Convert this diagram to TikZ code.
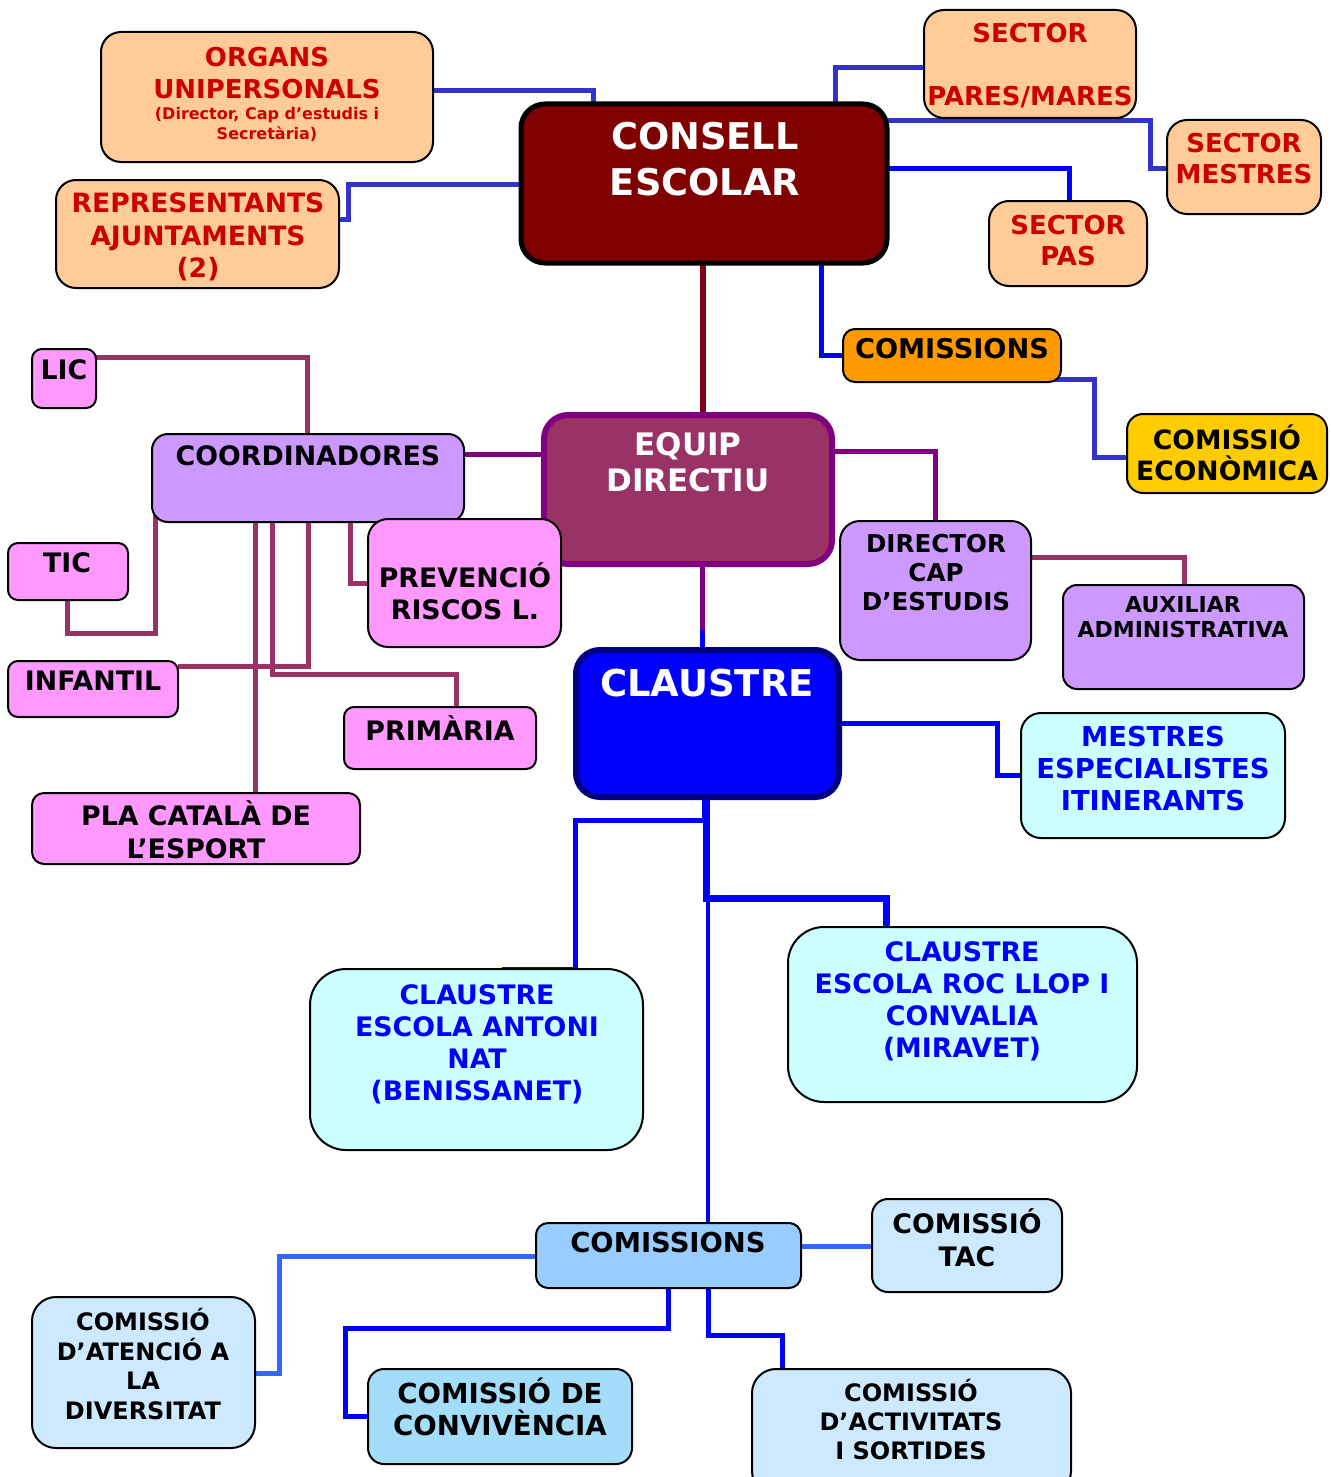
\documentclass[tikz,border=0pt]{standalone}
\usepackage{fontspec}
\setmainfont{DejaVu Sans}
\usetikzlibrary{backgrounds}
\definecolor{peach}{HTML}{FFCC99}
\definecolor{redtxt}{HTML}{CC0000}
\definecolor{maroon}{HTML}{800000}
\definecolor{lblue}{HTML}{3333CC}
\definecolor{pblue}{HTML}{0000FF}
\definecolor{orng}{HTML}{FF9900}
\definecolor{yell}{HTML}{FFCC00}
\definecolor{plum}{HTML}{993366}
\definecolor{purp}{HTML}{800080}
\definecolor{lilac}{HTML}{CC99FF}
\definecolor{pink}{HTML}{FF99FF}
\definecolor{navy}{HTML}{000080}
\definecolor{cyanl}{HTML}{CCFFFF}
\definecolor{skyb}{HTML}{99CCFF}
\definecolor{pale}{HTML}{CCE9FF}
\definecolor{conv}{HTML}{A3DDFA}
\definecolor{mblue}{HTML}{3366FF}
\definecolor{vline}{HTML}{800018}
\newcommand\mybox[7]{\node[#1, rounded corners=#7, minimum width={(#5-#3)*0.5pt}, minimum height={(#6-#4)*0.5pt}] (#2) at ({(#3+#5)/2},{(#4+#6)/2}) {};}
\newcommand\fs[2]{\fontsize{#1}{#2}\selectfont}
\begin{document}
\begin{tikzpicture}[x=0.5pt,y=-0.5pt,
  base/.style={draw=black, line width=1pt, inner sep=0pt, outer sep=0pt},
  peachbox/.style={base, fill=peach},
  pinkbox/.style={base, fill=pink},
  lilacbox/.style={base, fill=lilac},
  cyanbox/.style={base, fill=cyanl},
  palebox/.style={base, fill=pale},
  txt/.style={font=\bfseries, align=center, inner sep=0pt},
  conn/.style={line width=2.5pt, line join=miter},
]
\useasboundingbox (0,0) rectangle (1330,1477);
% boxes
\mybox{peachbox}{organs}{101}{32}{433}{162}{10pt}
\mybox{peachbox}{repr}{56}{180}{339}{288}{10pt}
\mybox{base, fill=maroon, line width=2.5pt}{consell}{521}{104}{887}{263}{12pt}
\mybox{peachbox}{pares}{924}{10}{1136}{118}{10pt}
\mybox{peachbox}{mestres}{1167}{120}{1321}{214}{10pt}
\mybox{peachbox}{pas}{989}{201}{1147}{286}{10pt}
\mybox{base, fill=orng}{com1}{843}{329}{1061}{382}{6pt}
\mybox{base, fill=yell}{econ}{1127}{414}{1327}{493}{8pt}
\mybox{base, fill=plum, draw=purp, line width=3pt}{equip}{544}{415}{832}{564}{12pt}
\mybox{lilacbox}{coord}{152}{434}{464}{522}{8pt}
\mybox{pinkbox}{lic}{32}{349}{96}{408}{5pt}
\mybox{pinkbox}{tic}{8}{543}{128}{600}{5pt}
\mybox{pinkbox}{inf}{8}{661}{178}{717}{5pt}
\mybox{pinkbox}{prev}{368}{519}{561}{647}{10pt}
\mybox{pinkbox}{prim}{344}{707}{536}{769}{5pt}
\mybox{pinkbox}{pla}{32}{793}{360}{864}{6pt}
\mybox{lilacbox}{dir}{840}{521}{1031}{660}{10pt}
\mybox{lilacbox}{aux}{1063}{585}{1304}{689}{7pt}
\mybox{base, fill=pblue, draw=navy, line width=3pt}{claustre}{576}{650}{839}{797}{12pt}
\mybox{cyanbox}{mest}{1021}{713}{1285}{838}{10pt}
\mybox{cyanbox}{nat}{310}{969}{643}{1150}{18pt}
\mybox{cyanbox}{roc}{788}{927}{1137}{1102}{18pt}
\mybox{base, fill=skyb}{com2}{536}{1223}{801}{1288}{6pt}
\mybox{palebox}{tac}{872}{1199}{1062}{1292}{8pt}
\mybox{palebox}{div}{32}{1297}{255}{1448}{12pt}
\mybox{base, fill=conv}{convb}{368}{1369}{632}{1464}{8pt}
\mybox{palebox}{act}{752}{1369}{1071}{1495}{12pt}
% connectors
\begin{scope}[on background layer]
\draw[conn, lblue] (organs.east |- 0,91) -| (consell.north -| 593,0);
\draw[conn, lblue] (repr.east |- 0,219) -| (348,184) -- (consell.west |- 0,184);
\draw[conn, lblue] (consell.north -| 835,0) |- (pares.west |- 0,68);
\draw[conn, lblue] (consell.center |- 0,121) -| (1150,168) -- (mestres.west |- 0,168);
\draw[conn, pblue] (consell.center |- 0,168) -| (pas.north -| 1069,0);
\draw[conn, pblue] (consell.south -| 821,0) |- (com1.west |- 0,355);
\draw[conn, lblue] (com1.center |- 0,379) -| (1094,457) -- (econ.west |- 0,457);
\draw[conn, vline, line width=3pt] (consell.south -| 703,0) -- (equip.north -| 703,0);
\draw[conn, purp] (equip.west |- 0,454) -- (coord.east |- 0,454);
\draw[conn, purp] (equip.east |- 0,451) -| (dir.north -| 935,0);
\draw[conn, purp] (equip.south -| 702,0) -- (702,632);
\draw[conn, pblue] (702,630) -- (claustre.north -| 702,0);
\draw[conn, plum] (dir.east |- 0,557) -| (aux.north -| 1184,0);
\draw[conn, plum] (coord.north -| 307,0) |- (lic.east |- 0,357);
\draw[conn, plum] (coord.center -| 155,0) |- (67,633) -- (tic.south -| 67,0);
\draw[conn, plum] (coord.south -| 308,0) |- (inf.east |- 0,666);
\draw[conn, plum] (coord.south -| 255,0) -- (pla.north -| 255,0);
\draw[conn, plum] (coord.south -| 272,0) |- (456,674) -- (prim.north -| 456,0);
\draw[conn, plum] (coord.south -| 350,0) |- (prev.west |- 0,583);
\draw[conn, pblue] (claustre.east |- 0,723) -| (997,775) -- (mest.west |- 0,775);
\draw[conn, pblue] (claustre.south -| 704,0) |- (575,820) -- (nat.north -| 575,0) -- (nat.north -| 502,0);
\draw[conn, pblue, line width=3.5pt] (claustre.south -| 706,0) |- (886,898) -- (roc.north -| 886,0);
\draw[conn, pblue, line width=2pt] (claustre.south -| 708,0) -- (com2.north -| 708,0);
\draw[conn, mblue] (com2.east |- 0,1246) -- (tac.west |- 0,1246);
\draw[conn, mblue] (com2.west |- 0,1256) -| (279,1373) -- (div.east |- 0,1373);
\draw[conn, pblue] (com2.south -| 668,0) |- (345,1328) |- (convb.west |- 0,1416);
\draw[conn, pblue] (com2.south -| 708,0) |- (782,1335) -- (act.north -| 782,0);
\end{scope}
% texts
\node[txt, redtxt, font=\bfseries\fs{13}{16}] (organs-t) at (267,73) {ORGANS\\UNIPERSONALS};
\node[txt, redtxt, font=\bfseries\fs{8}{10}] (organs-s) at (267,124) {(Director, Cap d’estudis i\\Secretària)};
\node[txt, redtxt, font=\bfseries\fs{13.3}{16.2}] (repr-t) at (198,237) {REPRESENTANTS\\AJUNTAMENTS\\(2)};
\node[txt, white, font=\bfseries\fs{18.4}{23}] (consell-t) at (705,159) {CONSELL\\ESCOLAR};
\node[txt, redtxt, font=\bfseries\fs{13}{31.5}] (pares-t) at (1030,65.5) {SECTOR\\PARES/MARES};
\node[txt, redtxt, font=\bfseries\fs{13}{15.5}] (mestres-t) at (1244,158.5) {SECTOR\\MESTRES};
\node[txt, redtxt, font=\bfseries\fs{13}{15.5}] (pas-t) at (1068,240.5) {SECTOR\\PAS};
\node[txt, font=\bfseries\fs{13.6}{16}] (com1-t) at (952,349) {COMISSIONS};
\node[txt, font=\bfseries\fs{13.3}{15.5}] (econ-t) at (1227,452.5) {COMISSIÓ\\ECONÒMICA};
\node[txt, white, font=\bfseries\fs{15.5}{18}] (equip-t) at (688,462) {EQUIP\\DIRECTIU};
\node[txt, font=\bfseries\fs{13.4}{16}] (coord-t) at (308,456) {COORDINADORES};
\node[txt, font=\bfseries\fs{13.4}{16}] (lic-t) at (64,370) {LIC};
\node[txt, font=\bfseries\fs{13.4}{16}] (tic-t) at (67,563) {TIC};
\node[txt, font=\bfseries\fs{13.4}{16}] (inf-t) at (93,681) {INFANTIL};
\node[txt, font=\bfseries\fs{13.4}{16}] (prev-t) at (465,591) {PREVENCIÓ\\RISCOS L.};
\node[txt, font=\bfseries\fs{13.4}{16}] (prim-t) at (440,728) {PRIMÀRIA};
\node[txt, font=\bfseries\fs{13.4}{16.5}] (pla-t) at (196,829.5) {PLA CATALÀ DE\\L’ESPORT};
\node[txt, font=\bfseries\fs{12.3}{14.5}] (dir-t) at (936,573) {DIRECTOR\\CAP\\D’ESTUDIS};
\node[txt, font=\bfseries\fs{11}{12.5}] (aux-t) at (1183,617.5) {AUXILIAR\\ADMINISTRATIVA};
\node[txt, white, font=\bfseries\fs{18.5}{22}] (claustre-t) at (707,683) {CLAUSTRE};
\node[txt, pblue, font=\bfseries\fs{13.7}{16}] (mest-t) at (1153,769) {MESTRES\\ESPECIALISTES\\ITINERANTS};
\node[txt, pblue, font=\bfseries\fs{13.4}{16}] (nat-t) at (477,1044) {CLAUSTRE\\ESCOLA ANTONI\\NAT\\(BENISSANET)};
\node[txt, pblue, font=\bfseries\fs{13.4}{16}] (roc-t) at (962,1001.5) {CLAUSTRE\\ESCOLA ROC LLOP I\\CONVALIA\\(MIRAVET)};
\node[txt, font=\bfseries\fs{13.7}{16}] (com2-t) at (668,1243) {COMISSIONS};
\node[txt, font=\bfseries\fs{13.4}{16.5}] (tac-t) at (967,1237.5) {COMISSIÓ\\TAC};
\node[txt, font=\bfseries\fs{12}{14.7}] (div-t) at (143,1364) {COMISSIÓ\\D’ATENCIÓ A\\LA\\DIVERSITAT};
\node[txt, font=\bfseries\fs{13.8}{16}] (conv-t) at (500,1407) {COMISSIÓ DE\\CONVIVÈNCIA};
\node[txt, font=\bfseries\fs{12}{14.7}] (act-t) at (911,1419.5) {COMISSIÓ\\D’ACTIVITATS\\I SORTIDES};
\end{tikzpicture}
\end{document}
